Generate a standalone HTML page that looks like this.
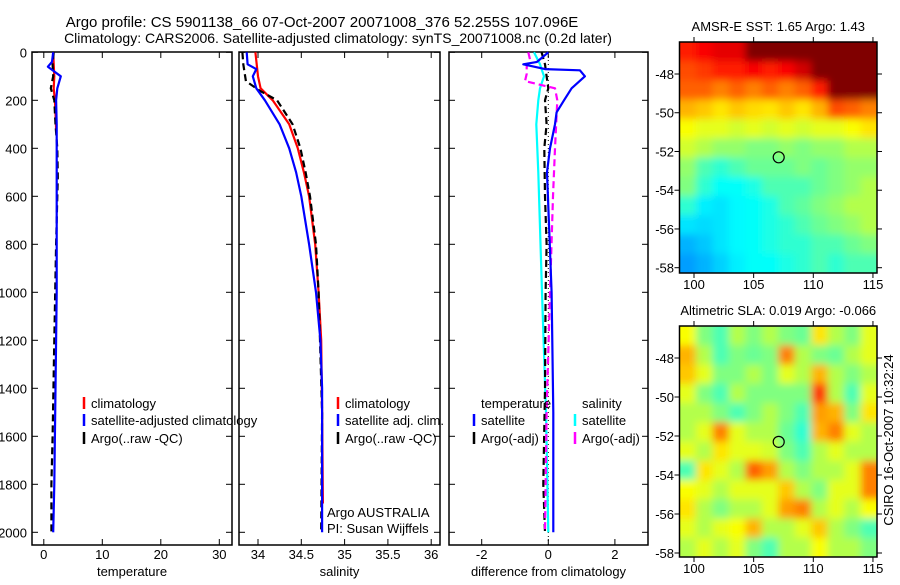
<!DOCTYPE html>
<html><head><meta charset="utf-8"><style>
body{margin:0;background:#fff}
svg text{font-family:"Liberation Sans",sans-serif;font-size:13px;fill:#000}
</style></head><body>
<svg id="c" width="900" height="580" viewBox="0 0 900 580">
<defs>
<filter id="bl"><feGaussianBlur stdDeviation="4"/></filter>
<clipPath id="cp1"><rect x="680" y="42" width="197" height="231"/></clipPath>
<clipPath id="cp2"><rect x="679" y="326" width="198" height="231"/></clipPath>
</defs>
<text x="322" y="27" text-anchor="middle" style="font-size:15px">Argo profile: CS 5901138_66 07-Oct-2007 20071008_376 52.255S 107.096E</text>
<text x="338" y="43" text-anchor="middle" style="font-size:14px">Climatology: CARS2006. Satellite-adjusted climatology: synTS_20071008.nc (0.2d later)</text>
<g id="g"></g>
</svg>
<script>
const depthTicks=[0,200,400,600,800,1000,1200,1400,1600,1800,2000];
const tTicks=[0,10,20,30], sTicks=[34,34.5,35,35.5,36], sLabels=["34","34.5","35","35.5","36"], dTicks=[-2,0,2];
// temperature panel
const tClimD=[0,50,100,150,200,250,320];
const tClimV=[1.6,1.7,1.8,1.7,1.9,2.0,2.1];
const tSatD=[0,40,60,75,100,150,200,300,400,600,1000,1400,1800,2000];
const tSatV=[1.6,1.4,0.7,1.5,2.9,2.3,2.1,2.2,2.2,2.2,2.2,2.0,1.8,1.6];
const tArgD=[0,50,100,150,200,300,400,520,800,1200,1600,1800,2000];
const tArgV=[1.7,1.5,1.6,1.2,1.8,2.0,2.3,2.4,2.1,1.8,1.5,1.3,1.3];
// salinity panel
const sClimD=[0,100,150,200,300,400,500,600,800,1000,1200,1500,1880];
const sClimV=[33.97,34.0,34.03,34.17,34.36,34.46,34.53,34.59,34.66,34.7,34.73,34.74,34.75];
const sSatD=[0,50,70,100,150,200,300,400,500,600,800,1000,1200,1400,2000];
const sSatV=[33.87,33.88,33.98,33.94,33.98,34.08,34.25,34.36,34.44,34.5,34.59,34.67,34.72,34.74,34.74];
const sArgD=[0,50,120,160,200,300,400,500,600,800,1000,1500,2000];
const sArgV=[33.82,33.83,33.86,34.02,34.22,34.4,34.49,34.55,34.6,34.67,34.7,34.74,34.73];
// difference panel
const dTSatD=[0,40,50,70,75,100,150,200,250,300,400,500,1000,1500,2000];
const dTSatV=[0,-0.34,-0.75,-0.1,0.95,1.1,0.7,0.47,0.25,0.2,0.05,-0.04,0.1,0.15,0.15];
const dSSatD=[0,50,100,150,200,300,500,1000,1500,2000];
const dSSatV=[-0.43,-0.25,-0.13,-0.25,-0.3,-0.36,-0.3,-0.19,-0.07,0];
const dTArgD=[0,50,100,150,200,300,400,600,800,1000,1400,1800,2000];
const dTArgV=[-0.2,-0.1,-0.05,0,-0.1,-0.05,-0.12,-0.1,-0.05,-0.08,-0.1,-0.15,-0.1];
const dSArgD=[0,30,60,90,120,150,200,400,600,1000,1500,2000];
const dSArgV=[-0.6,-0.55,-0.65,-0.65,-0.7,0.2,0.27,0.2,0.14,0.05,-0.05,-0.1];
// maps (jet-scaled 0..1), rows north->south, cols west->east
const sstGrid=[
[0.85,0.88,0.9,0.9,1,1,1,1,1,1,1,1],
[0.8,0.82,0.85,0.85,0.88,0.85,0.88,0.92,1,1,1,1],
[0.78,0.78,0.75,0.78,0.75,0.78,0.75,0.78,0.85,1,1,1],
[0.7,0.68,0.65,0.68,0.66,0.65,0.68,0.65,0.7,0.8,0.78,0.75],
[0.62,0.6,0.6,0.58,0.6,0.58,0.6,0.58,0.6,0.6,0.62,0.65],
[0.58,0.55,0.52,0.52,0.5,0.5,0.52,0.5,0.52,0.52,0.55,0.55],
[0.52,0.45,0.42,0.45,0.48,0.48,0.48,0.5,0.48,0.5,0.52,0.52],
[0.5,0.42,0.38,0.38,0.4,0.45,0.45,0.45,0.48,0.5,0.52,0.55],
[0.42,0.36,0.35,0.37,0.38,0.4,0.45,0.47,0.5,0.52,0.55,0.55],
[0.35,0.34,0.35,0.37,0.38,0.4,0.42,0.45,0.48,0.5,0.52,0.55],
[0.3,0.32,0.35,0.37,0.38,0.4,0.42,0.42,0.45,0.45,0.48,0.5],
[0.28,0.3,0.33,0.36,0.38,0.38,0.4,0.42,0.45,0.42,0.45,0.45]];
const slaGrid=[
[0.62,0.5,0.45,0.55,0.5,0.55,0.5,0.48,0.65,0.55,0.5,0.6],
[0.7,0.55,0.45,0.5,0.48,0.5,0.75,0.55,0.5,0.48,0.55,0.6],
[0.68,0.6,0.5,0.5,0.55,0.5,0.6,0.55,0.7,0.55,0.5,0.55],
[0.6,0.5,0.45,0.55,0.5,0.5,0.5,0.5,0.82,0.55,0.45,0.6],
[0.55,0.55,0.5,0.45,0.5,0.55,0.5,0.45,0.72,0.7,0.5,0.65],
[0.55,0.6,0.75,0.6,0.55,0.55,0.48,0.42,0.7,0.75,0.6,0.55],
[0.6,0.55,0.65,0.6,0.6,0.58,0.5,0.45,0.55,0.6,0.55,0.55],
[0.45,0.65,0.6,0.55,0.78,0.72,0.55,0.5,0.55,0.55,0.6,0.75],
[0.62,0.6,0.55,0.6,0.6,0.6,0.68,0.55,0.5,0.6,0.6,0.75],
[0.65,0.55,0.5,0.55,0.55,0.6,0.72,0.75,0.55,0.6,0.55,0.62],
[0.6,0.55,0.6,0.62,0.7,0.55,0.55,0.6,0.68,0.55,0.5,0.45],
[0.55,0.6,0.55,0.6,0.5,0.45,0.55,0.55,0.62,0.55,0.55,0.5]];
const lonTicks=[100,105,110,115], latTicks=[-48,-50,-52,-54,-56,-58];
const argoLon=107.1, argoLat=-52.3;

const NS='http://www.w3.org/2000/svg', G=document.getElementById('g');
function mk(t,a,p){const e=document.createElementNS(NS,t);for(const k in a)e.setAttribute(k,a[k]);(p||G).appendChild(e);return e;}
const yD=d=>52.3+d*0.24;
const panels=[
 {x0:32,x1:232,name:'temperature'},
 {x0:239,x1:440,name:'salinity'},
 {x0:449,x1:648,name:'difference'}];
const xT=v=>43.8+v*5.85, xS=v=>258+(v-34)*86.6, xDf=v=>548.3+v*33.3;
const fx=[xT,xS,xDf];
function frame(p,i,ticks,labels,xl){
 const r=mk('rect',{x:p.x0,y:52,width:p.x1-p.x0,height:493,fill:'none',stroke:'#000','stroke-width':1.5});
 
 ticks.forEach((t,j)=>{const x=fx[i](t);
  mk('line',{x1:x,x2:x,y1:545,y2:539,stroke:'#000'});mk('line',{x1:x,x2:x,y1:52,y2:58,stroke:'#000'});
  const tx=mk('text',{x:x,y:559,'text-anchor':'middle'});tx.textContent=labels[j];
  });
 depthTicks.forEach(d=>{const y=yD(d);
  mk('line',{x1:p.x0,x2:p.x0+6,y1:y,y2:y,stroke:'#000'});mk('line',{x1:p.x1,x2:p.x1-6,y1:y,y2:y,stroke:'#000'});});
 const xa=mk('text',{x:(p.x0+p.x1)/2,y:576,'text-anchor':'middle'});xa.textContent=xl;
 
}
frame(panels[0],0,tTicks,tTicks.map(String),'temperature');
frame(panels[1],1,sTicks,sLabels,'salinity');
frame(panels[2],2,dTicks,dTicks.map(String),'difference from climatology');
depthTicks.forEach(d=>{const t=mk('text',{x:27,y:yD(d)+5,'text-anchor':'end'});t.textContent=String(d);
 });
mk('line',{x1:xDf(0),x2:xDf(0),y1:52,y2:545,stroke:'#000','stroke-dasharray':'1,3'});
function line(D,V,f,col,dash,name){
 const pts=D.map((d,i)=>f(V[i]).toFixed(1)+','+yD(d).toFixed(1)).join(' ');
 const a={points:pts,fill:'none',stroke:col,'stroke-width':2.2,'stroke-linejoin':'round'};
 if(dash)a['stroke-dasharray']=dash;
 const e=mk('polyline',a);}
line(tClimD,tClimV,xT,'#f00',null,'temp-climatology-line');
line(tArgD,tArgV,xT,'#000','7,4','temp-argo-line');
line(tSatD,tSatV,xT,'#00f',null,'temp-satellite-line');
line(sClimD,sClimV,xS,'#f00',null,'sal-climatology-line');
line(sArgD,sArgV,xS,'#000','7,4','sal-argo-line');
line(sSatD,sSatV,xS,'#00f',null,'sal-satellite-line');
line(dSSatD,dSSatV,xDf,'#0ff',null,'diff-sal-satellite-line');
line(dTArgD,dTArgV,xDf,'#000','7,4','diff-temp-argo-line');
line(dSArgD,dSArgV,xDf,'#f0f','7,4','diff-sal-argo-line');
line(dTSatD,dTSatV,xDf,'#00f',null,'diff-temp-satellite-line');
function leg(x,y,col,txt,name){
 mk('line',{x1:x,x2:x,y1:y-11,y2:y+1,stroke:col,'stroke-width':2.5});
 const t=mk('text',{x:x+7,y:y});t.textContent=txt;}
leg(84,408,'#f00','climatology','legend-temp-climatology');
leg(84,425,'#00f','satellite-adjusted climatology','legend-temp-satellite');
leg(84,443,'#000','Argo(..raw -QC)','legend-temp-argo');
leg(338,408,'#f00','climatology','legend-sal-climatology');
leg(338,425,'#00f','satellite adj. clim.','legend-sal-satellite');
leg(338,443,'#000','Argo(..raw -QC)','legend-sal-argo');
let t=mk('text',{x:481,y:408});t.textContent='temperature';
t=mk('text',{x:582,y:408});t.textContent='salinity';
leg(474,425,'#00f','satellite','legend-diff-temp-satellite');
leg(474,443,'#000','Argo(-adj)','legend-diff-temp-argo');
leg(575,425,'#0ff','satellite','legend-diff-sal-satellite');
leg(575,443,'#f0f','Argo(-adj)','legend-diff-sal-argo');
t=mk('text',{x:327,y:517});t.textContent='Argo AUSTRALIA';
t=mk('text',{x:327,y:533});t.textContent='PI: Susan Wijffels';
function jet(v){const c=x=>Math.round(255*Math.max(0,Math.min(1,1.5-Math.abs(x))));return `rgb(${c(4*v-3)},${c(4*v-2)},${c(4*v-1)})`;}
function map(grid,top,bot,latY0,latK,cp,title,name){
 const L=679.5,R=877,lx=v=>694+(v-100)*11.93,ly=v=>latY0+(-48-v)*latK;
 const g=mk('g',{'clip-path':`url(#${cp})`});
 const gi=mk('g',{filter:'url(#bl)'},g);
 const nr=grid.length,nc=grid[0].length,cw=(R-L)/nc,ch=(bot-top)/nr;
 mk('rect',{x:L-10,y:top-10,width:R-L+20,height:bot-top+20,fill:jet(grid[5][5])},gi);
 grid.forEach((row,r)=>row.forEach((v,c)=>{
  const x0=c===0?L-10:L+c*cw, x1=c===nc-1?R+10:L+(c+1)*cw, y0=r===0?top-10:top+r*ch, y1=r===nr-1?bot+10:top+(r+1)*ch;
  const e=mk('rect',{x:x0,y:y0,width:x1-x0+0.5,height:y1-y0+0.5,fill:jet(v)},gi);
  }));
 mk('rect',{x:L,y:top,width:R-L,height:bot-top,fill:'none',stroke:'#000','stroke-width':1.5});
 lonTicks.forEach(v=>{const x=lx(v);mk('line',{x1:x,x2:x,y1:bot,y2:bot+5,stroke:'#000'});mk('line',{x1:x,x2:x,y1:top,y2:top-5,stroke:'#000'});
  const tx=mk('text',{x:x,y:bot+16,'text-anchor':'middle'});tx.textContent=String(v);
  });
 latTicks.forEach(v=>{const y=ly(v);mk('line',{x1:L,x2:L-5,y1:y,y2:y,stroke:'#000'});mk('line',{x1:R,x2:R+5,y1:y,y2:y,stroke:'#000'});
  const tx=mk('text',{x:674,y:y+5,'text-anchor':'end'});tx.textContent=String(v);
  });
 const ci=mk('circle',{cx:lx(argoLon),cy:ly(argoLat),r:5.5,fill:'none',stroke:'#000','stroke-width':1.2});
 
 const tt=mk('text',{x:(L+R)/2,y:top-11,'text-anchor':'middle'});tt.textContent=title;
 
}
map(sstGrid,42,273,74,19.37,'cp1','AMSR-E SST: 1.65 Argo: 1.43','sst-map');
map(slaGrid,326,557,358,19.5,'cp2','Altimetric SLA: 0.019 Argo: -0.066','sla-map');
t=mk('text',{x:0,y:0,transform:'translate(893,440) rotate(-90)','text-anchor':'middle'});t.textContent='CSIRO 16-Oct-2007 10:32:24';

</script>
</body></html>
